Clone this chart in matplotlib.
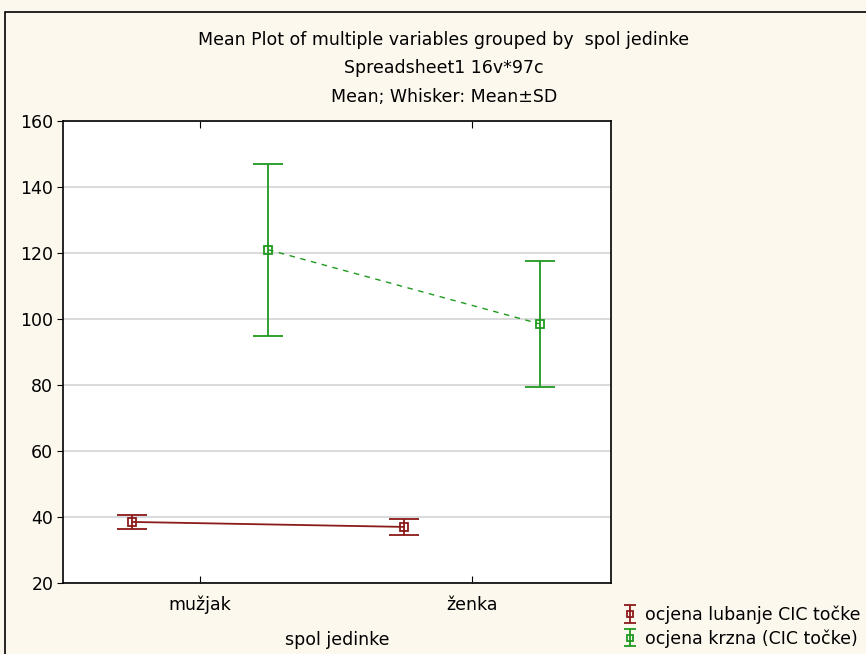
import numpy as np
import matplotlib.pyplot as plt
from matplotlib.patches import Rectangle

categories = ['mužjak', 'ženka']
lubanja_mean = [38.5, 37.0]
lubanja_sd = [2.2, 2.5]
krzno_mean = [121.0, 98.5]
krzno_sd = [26.0, 19.0]
series_names = ['ocjena lubanje CIC točke', 'ocjena krzna (CIC točke)']

plt.rcParams['font.family'] = ['DejaVu Sans']

bg = '#fdf8ee'
red = '#8b1a1a'
green = '#1f9a1f'
fs = 12.5

fig = plt.figure(figsize=(8.66, 6.54), dpi=100, facecolor=bg)
# outer frame like the original export
fig.patches.append(Rectangle((5 / 866, -0.1), 1.2, (654 - 12) / 654 + 0.1,
                             transform=fig.transFigure, fill=False,
                             edgecolor='black', linewidth=1.2))

ax = fig.add_axes([63 / 866, 71 / 654, 548 / 866, 462 / 654])
ax.set_facecolor('white')

x = np.arange(len(categories))
off = 0.25

ax.errorbar(x - off, lubanja_mean, yerr=lubanja_sd, color=red, marker='s',
            markersize=5.5, markerfacecolor='none', markeredgewidth=1.3,
            capsize=10.5, elinewidth=1.3, capthick=1.3, linewidth=1.3)
ax.errorbar(x + off, krzno_mean, yerr=krzno_sd, color=green, marker='s',
            markersize=5.5, markerfacecolor='none', markeredgewidth=1.3,
            capsize=10.5, elinewidth=1.3, capthick=1.3, linewidth=1.0,
            linestyle=(0, (4, 4)))

# legend proxies: just the whisker symbol, no connecting line
handles = []
for c in [red, green]:
    h = ax.errorbar([np.nan], [np.nan], yerr=[1], color=c, marker='s',
                    markersize=5, markerfacecolor='none', markeredgewidth=1.3,
                    capsize=4.5, elinewidth=1.3, capthick=1.3, linestyle='none')
    handles.append(h)

ax.set_xlim(-0.504, 1.511)
ax.set_ylim(20, 160)
ax.set_yticks(np.arange(20, 161, 20))
ax.set_xticks(x)
ax.set_xticklabels(categories)
ax.yaxis.grid(True, color='#d8d8d8', linewidth=1.3)
ax.set_axisbelow(True)
ax.tick_params(axis='x', direction='in', length=5, top=True, labelsize=fs, pad=9)
ax.tick_params(axis='y', direction='out', length=4, labelsize=fs, pad=3)
for s in ax.spines.values():
    s.set_linewidth(1.2)
ax.set_xlabel('spol jedinke', fontsize=fs, labelpad=12)

fig.text(444 / 866, 1 - 40 / 654, 'Mean Plot of multiple variables grouped by  spol jedinke',
         ha='center', va='center', fontsize=fs)
fig.text(444 / 866, 1 - 68 / 654, 'Spreadsheet1 16v*97c', ha='center', va='center', fontsize=fs)
fig.text(444 / 866, 1 - 97 / 654, 'Mean; Whisker: Mean±SD', ha='center', va='center', fontsize=fs)

ax.legend(handles, series_names, loc='upper left', bbox_to_anchor=(613 / 866, 1 - 597 / 654),
          bbox_transform=fig.transFigure, frameon=False, fontsize=fs,
          handlelength=1.0, handletextpad=0.35, borderpad=0, labelspacing=0.3)

fig.savefig('out.png', dpi=100, facecolor=bg)
